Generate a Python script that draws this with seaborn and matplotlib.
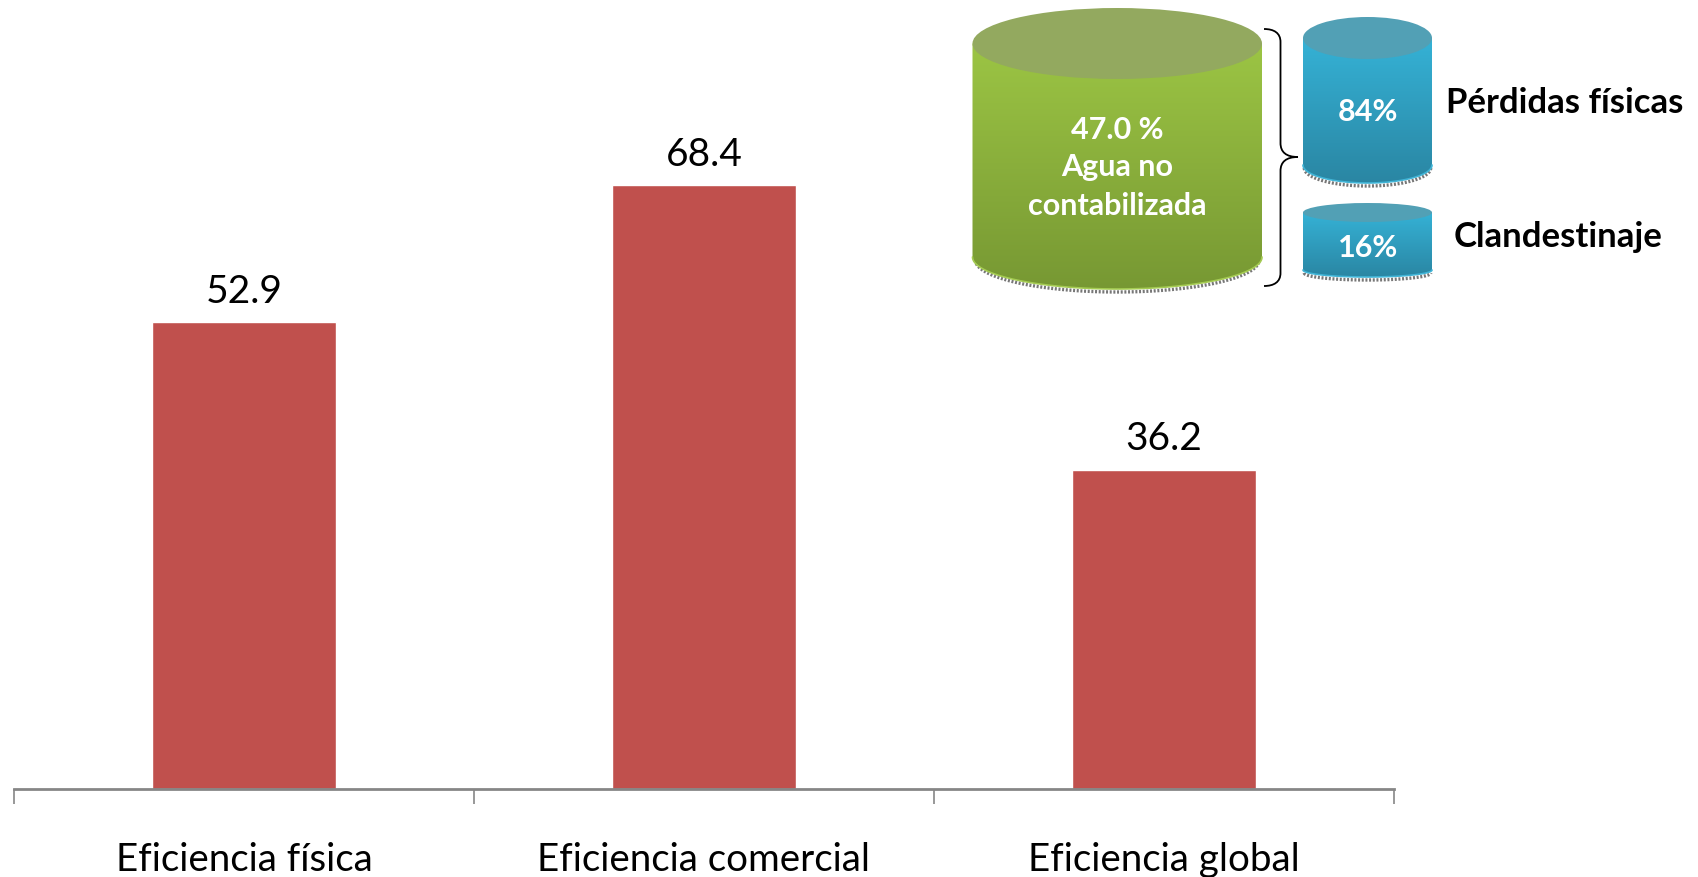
import numpy as np
import pandas as pd
import seaborn as sns
import matplotlib.pyplot as plt
from matplotlib.colors import LinearSegmentedColormap
from matplotlib.patches import Ellipse, PathPatch
from matplotlib.path import Path

categories = ["Eficiencia física", "Eficiencia comercial", "Eficiencia global"]
values = [52.9, 68.4, 36.2]

W, H = 1699, 877

sns.set_style("white")
plt.rcParams["font.family"] = ["Lato", "DejaVu Sans"]

data = pd.DataFrame({"cat": categories, "val": values})

fig = plt.figure(figsize=(W / 100, H / 100), dpi=100)
ax = fig.add_axes([14 / W, (H - 789) / H, 1380 / W, 789 / H])
sns.barplot(data=data, x="cat", y="val", color="#C0504D", saturation=1, width=0.4, ax=ax)
ax.bar_label(ax.containers[0], fmt="%.1f", padding=9, fontsize=28, color="black")
ax.set_xlim(-0.5, 2.5)
ax.set_ylim(0, 89.4)
ax.set_xlabel("")
ax.set_ylabel("")
ax.set_yticks([])
ax.set_xticks([-0.5, 0.5, 1.5, 2.5])
ax.set_xticklabels([])
ax.set_xticks([0, 1, 2], labels=categories, minor=True)
ax.tick_params(axis="x", which="major", bottom=True, length=11, width=1.2, color="#868686")
ax.tick_params(axis="x", which="minor", bottom=True, length=0, pad=38.5, labelsize=27.7, labelcolor="black")
for s in ["top", "left", "right"]:
    ax.spines[s].set_visible(False)
ax.spines["bottom"].set_color("#868686")
ax.spines["bottom"].set_linewidth(2)

# overlay in pixel coordinates for the cylinders
ov = fig.add_axes([0, 0, 1, 1])
ov.patch.set_alpha(0)
ov.axis("off")


def cylinder(x0, x1, cy_top, ry_top, cy_bot, ry_bot, c_hi, c_lo, c_top, rim):
    cx = (x0 + x1) / 2
    rx = (x1 - x0) / 2
    k = 0.5523
    # grainy shadow under the base
    t = np.linspace(np.pi, 0, 80)
    ov.plot(cx + rx * 0.98 * np.cos(t), cy_bot + 3 + ry_bot * np.sin(t), color="#777777",
            lw=2.4, ls=(0, (0.6, 0.5)), zorder=2)
    verts = [(x0, cy_top), (x1, cy_top), (x1, cy_bot),
             (x1, cy_bot + k * ry_bot), (cx + k * rx, cy_bot + ry_bot), (cx, cy_bot + ry_bot),
             (cx - k * rx, cy_bot + ry_bot), (x0, cy_bot + k * ry_bot), (x0, cy_bot),
             (x0, cy_top)]
    codes = [Path.MOVETO, Path.LINETO, Path.LINETO, Path.CURVE4, Path.CURVE4, Path.CURVE4,
             Path.CURVE4, Path.CURVE4, Path.CURVE4, Path.CLOSEPOLY]
    body = PathPatch(Path(verts, codes), facecolor="none", edgecolor="none", transform=ov.transData)
    ov.add_patch(body)
    cmap = LinearSegmentedColormap.from_list("g", [c_hi, c_lo])
    grad = np.linspace(0, 1, 256).reshape(-1, 1)
    im = ov.imshow(grad, cmap=cmap, extent=(x0, x1, cy_bot + ry_bot, cy_top), aspect="auto", zorder=3)
    im.set_clip_path(body)
    # lighter rim on the base
    ov.plot(cx + rx * np.cos(t), cy_bot + ry_bot * np.sin(t), color=rim, lw=1.2, zorder=4)
    ov.add_patch(Ellipse((cx, cy_top), 2 * rx, 2 * ry_top, facecolor=c_top, edgecolor="none", zorder=5))


cylinder(972.5, 1262, 43.5, 35.5, 257, 32, "#9CC544", "#779833", "#93A95F", "#A4CB52")
cylinder(1303, 1432, 38, 21, 165, 18, "#35B2D6", "#2A86A3", "#52A0B5", "#40B4D6")
cylinder(1303, 1432, 212.5, 9.5, 270, 7, "#35B2D6", "#2A86A3", "#52A0B5", "#40B4D6")

# brace
brace = Path(
    [(1264, 29), (1274, 29), (1280.5, 33), (1280.5, 42),
     (1280.5, 143), (1280.5, 152), (1286, 157), (1298, 157),
     (1286, 157), (1280.5, 162), (1280.5, 171),
     (1280.5, 273), (1280.5, 282), (1274, 286), (1264, 286)],
    [Path.MOVETO, Path.CURVE4, Path.CURVE4, Path.CURVE4,
     Path.LINETO, Path.CURVE4, Path.CURVE4, Path.CURVE4,
     Path.CURVE4, Path.CURVE4, Path.CURVE4,
     Path.LINETO, Path.CURVE4, Path.CURVE4, Path.CURVE4],
)
ov.add_patch(PathPatch(brace, facecolor="none", edgecolor="black", lw=1.3, zorder=6))

ov.set_xlim(0, W)
ov.set_ylim(H, 0)

for x, y, s in [(1117, 130, "47.0 %"), (1117, 167, "Agua no"), (1117, 206, "contabilizada"),
                (1368, 112, "84%"), (1368, 248, "16%")]:
    ov.text(x, y, s, color="white", fontsize=22, fontweight="bold", ha="center", va="center", zorder=7)
ov.text(1565, 103, "Pérdidas físicas", color="black", fontsize=25, fontweight="bold", ha="center", va="center", zorder=7)
ov.text(1558, 237, "Clandestinaje", color="black", fontsize=25, fontweight="bold", ha="center", va="center", zorder=7)

fig.savefig("out.png", dpi=100)
